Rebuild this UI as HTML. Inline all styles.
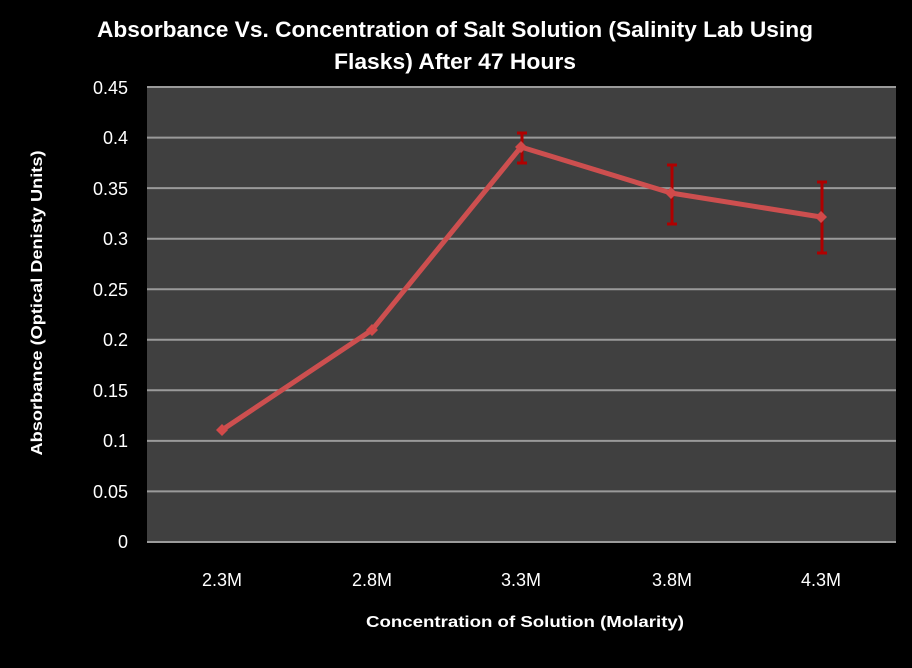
<!DOCTYPE html>
<html><head><style>body{margin:0;background:#000}</style></head><body>
<svg width="912" height="663" xmlns="http://www.w3.org/2000/svg" font-family="Liberation Sans, sans-serif">
<rect width="912" height="663" fill="#000"/>
<rect x="147" y="87" width="749" height="455" fill="#404040"/>
<g stroke="#9a9a9a" stroke-width="2">
<line x1="147" x2="896" y1="87" y2="87"/><line x1="147" x2="896" y1="137.6" y2="137.6"/>
<line x1="147" x2="896" y1="188.1" y2="188.1"/><line x1="147" x2="896" y1="238.7" y2="238.7"/>
<line x1="147" x2="896" y1="289.2" y2="289.2"/><line x1="147" x2="896" y1="339.8" y2="339.8"/>
<line x1="147" x2="896" y1="390.3" y2="390.3"/><line x1="147" x2="896" y1="440.9" y2="440.9"/>
<line x1="147" x2="896" y1="491.4" y2="491.4"/><line x1="147" x2="896" y1="542" y2="542"/>
</g>
<g fill="#fff" font-size="18" text-anchor="end">
<text x="128" y="94">0.45</text><text x="128" y="144">0.4</text><text x="128" y="195">0.35</text>
<text x="128" y="245">0.3</text><text x="128" y="296">0.25</text><text x="128" y="346">0.2</text>
<text x="128" y="397">0.15</text><text x="128" y="447">0.1</text><text x="128" y="498">0.05</text>
<text x="128" y="548">0</text>
</g>
<g fill="#fff" font-size="18" text-anchor="middle">
<text x="222" y="586">2.3M</text><text x="372" y="586">2.8M</text><text x="521" y="586">3.3M</text>
<text x="672" y="586">3.8M</text><text x="821" y="586">4.3M</text>
</g>
<g stroke="#b00000" stroke-width="3">
<line x1="522" x2="522" y1="133" y2="163"/><line x1="517" x2="527" y1="133" y2="133"/><line x1="517" x2="527" y1="163" y2="163"/>
<line x1="672" x2="672" y1="165" y2="224"/><line x1="667" x2="677" y1="165" y2="165"/><line x1="667" x2="677" y1="224" y2="224"/>
<line x1="822" x2="822" y1="182" y2="253"/><line x1="817" x2="827" y1="182" y2="182"/><line x1="817" x2="827" y1="253" y2="253"/>
</g>
<polyline points="222,430 372,330 521,147 671,193 821,217" fill="none" stroke="#cd4f4f" stroke-width="5" stroke-linejoin="round"/>
<g fill="#d24a4a">
<polygon points="222,424 228,430 222,436 216,430"/><polygon points="372,324 378,330 372,336 366,330"/>
<polygon points="521,141 527,147 521,153 515,147"/><polygon points="671,187 677,193 671,199 665,193"/>
<polygon points="821,211 827,217 821,223 815,217"/>
</g>
<g fill="#fff" font-weight="bold" text-anchor="middle">
<text x="455" y="37" font-size="22" textLength="716" lengthAdjust="spacingAndGlyphs">Absorbance Vs. Concentration of Salt Solution (Salinity Lab Using</text>
<text x="455" y="69" font-size="22" textLength="242" lengthAdjust="spacingAndGlyphs">Flasks) After 47 Hours</text>
<text x="525" y="627" font-size="16" textLength="318" lengthAdjust="spacingAndGlyphs">Concentration of Solution  (Molarity)</text>
<text transform="translate(42,303) rotate(-90)" font-size="16" textLength="305" lengthAdjust="spacingAndGlyphs">Absorbance  (Optical Denisty Units)</text>
</g>
</svg>
</body></html>
